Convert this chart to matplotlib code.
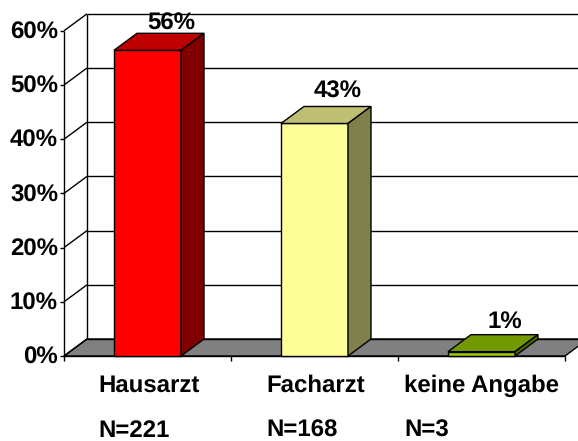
import matplotlib
matplotlib.use("Agg")
import matplotlib.pyplot as plt
from matplotlib.patches import Polygon

categories = ["Hausarzt", "Facharzt", "keine Angabe"]
counts = ["N=221", "N=168", "N=3"]
values = [56.4, 42.9, 0.8]
bar_labels = ["56%", "43%", "1%"]
y_ticks = [0, 10, 20, 30, 40, 50, 60]

front_colors = ["#FF0000", "#FFFF99", "#99CC00"]
top_colors = ["#BF0000", "#BFBF73", "#739900"]
side_colors = ["#800000", "#80804D", "#4D6600"]

W, H = 578, 441
PX_X = 167.0    # pixels per category
PX_Y = 5.42     # pixels per percent
X0, Y0 = 64, 356
DX = 23 / PX_X  # 3d depth in data units
DY = 17 / PX_Y
BAR_W = 67 / PX_X

plt.rcParams["font.family"] = ["Liberation Sans", "DejaVu Sans"]
plt.rcParams["font.weight"] = "bold"
plt.rcParams["font.size"] = 17.3
plt.rcParams["text.hinting"] = "no_hinting"
plt.rcParams["text.hinting_factor"] = 1

fig = plt.figure(figsize=(W / 100, H / 100), dpi=100)
ax = fig.add_axes([0, 0, 1, 1])
ax.set_xlim(-X0 / PX_X, (W - X0) / PX_X)
ax.set_ylim(-(H - Y0) / PX_Y, Y0 / PX_Y)
ax.axis("off")

n = len(categories)
line = dict(color="black", lw=1.0, solid_capstyle="butt")

# floor
ax.add_patch(Polygon([(0, 0), (DX, DY), (n + DX, DY), (n, 0)], fc="#808080", ec="black", lw=1.0, zorder=1))

# back wall grid and side wall
right = (W - X0) / PX_X
for t in y_ticks:
    ax.plot([DX, right], [t + DY, t + DY], zorder=1.5, **line)
    ax.plot([0, DX], [t, t + DY], zorder=1.5, **line)
    ax.plot([-4 / PX_X, 0], [t, t], zorder=1.5, **line)
ax.plot([0, 0], [0, 60], zorder=1.5, **line)
ax.plot([DX, DX], [DY, 60 + DY], zorder=1.5, **line)
for i in range(n + 1):
    ax.plot([i, i], [0, -5 / PX_Y], zorder=1.5, **line)
ax.plot([0, n], [0, 0], zorder=1.5, **line)

# bars
label_gap = [21, 26, 24]   # px from front top edge to the label baseline
lefts = [i + (1 - BAR_W) / 2 for i in range(n)]
for i in range(n):
    x, v = lefts[i], values[i]
    ax.bar(x, v, width=BAR_W, align="edge", color=front_colors[i], edgecolor="black", lw=1.0, zorder=3)
    ax.add_patch(Polygon([(x, v), (x + DX, v + DY), (x + BAR_W + DX, v + DY), (x + BAR_W, v)],
                         fc=top_colors[i], ec="black", lw=1.0, zorder=3))
    ax.add_patch(Polygon([(x + BAR_W, 0), (x + BAR_W + DX, DY), (x + BAR_W + DX, v + DY), (x + BAR_W, v)],
                         fc=side_colors[i], ec="black", lw=1.0, zorder=3))
    ax.text(x + BAR_W / 2 + 23.5 / PX_X, v + label_gap[i] / PX_Y, bar_labels[i], ha="center", va="baseline", zorder=4)

# tick labels
for t in y_ticks:
    ax.text(-6 / PX_X, t - 8 / PX_Y, "%d%%" % t, ha="right", va="baseline", zorder=4)

label_x = [98, 266, 404]
for i in range(n):
    lx = (label_x[i] - X0) / PX_X
    ax.text(lx, -36 / PX_Y, categories[i], ha="left", va="baseline")
    ax.text(lx, -81 / PX_Y, counts[i], ha="left", va="baseline")

fig.savefig("out.png", dpi=100)
